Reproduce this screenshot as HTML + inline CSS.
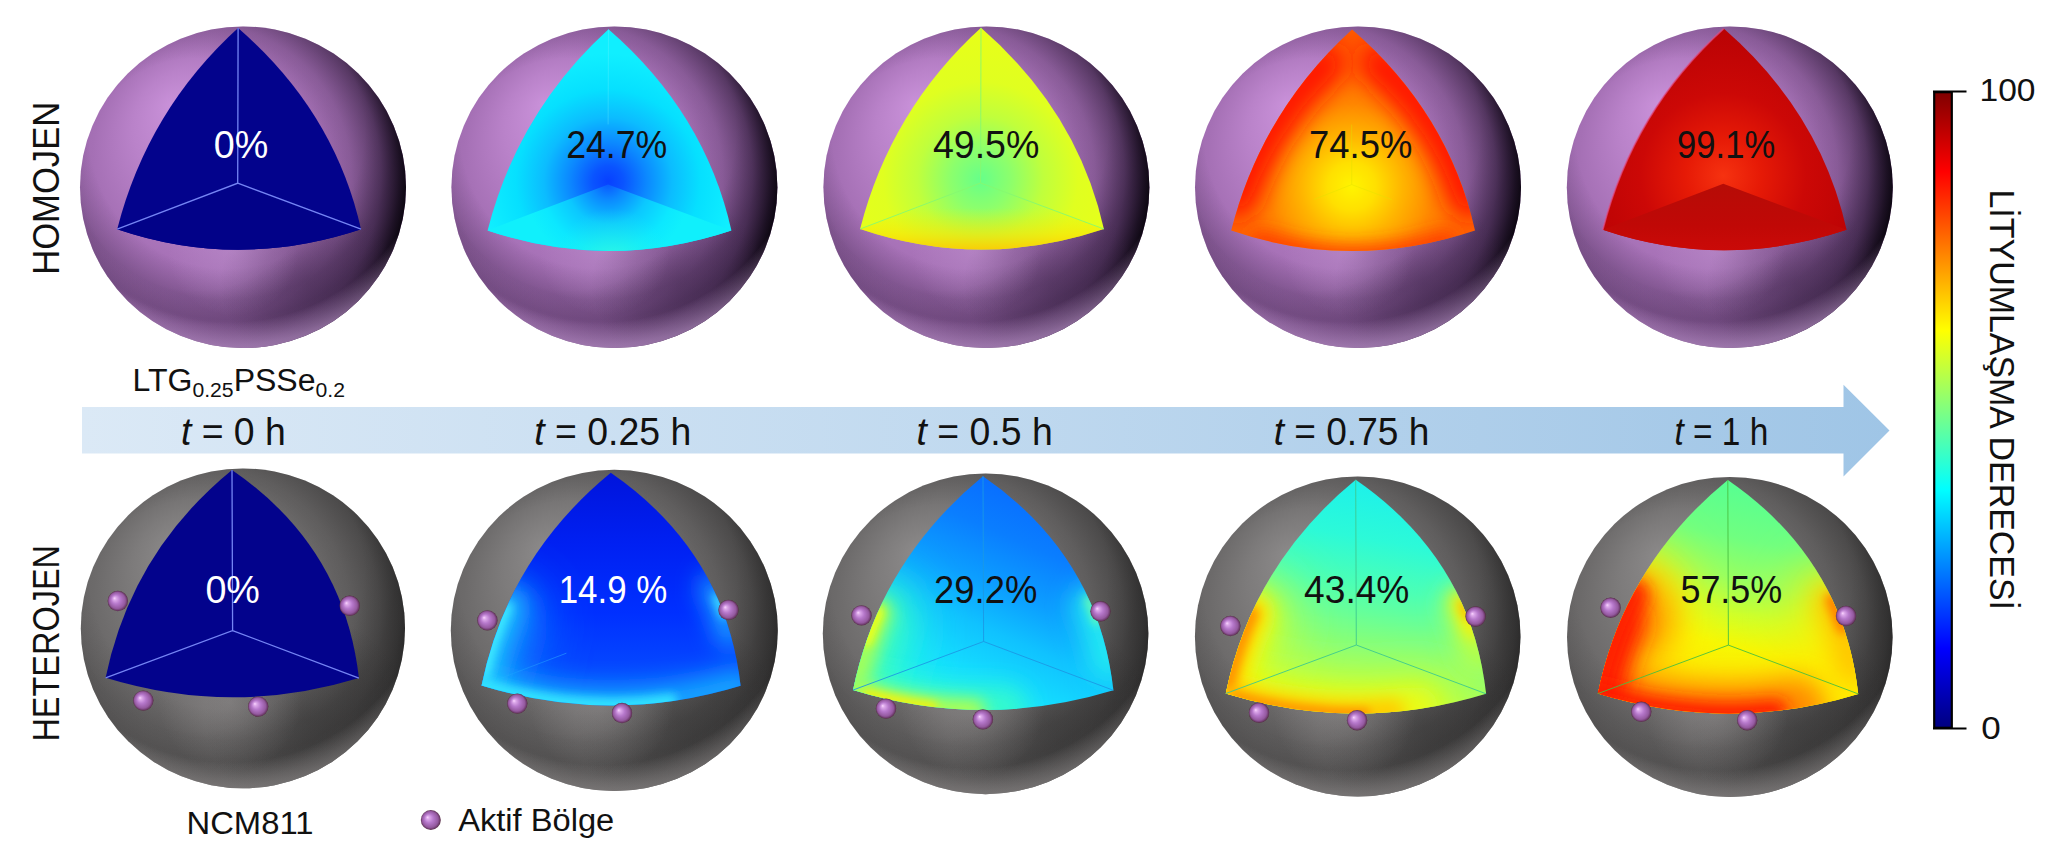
<!DOCTYPE html>
<html lang="tr">
<head>
<meta charset="utf-8">
<title>Lityumlaşma derecesi</title>
<style>
html,body{margin:0;padding:0;background:#fff;}
body{width:2048px;height:866px;overflow:hidden;}
svg{display:block;font-family:"Liberation Sans", sans-serif;}
</style>
</head>
<body>
<svg width="2048" height="866" viewBox="0 0 2048 866">
<defs>

<radialGradient id="pBase" cx="0.5" cy="0.5" r="0.62" fx="0.28" fy="0.24">
  <stop offset="0" stop-color="#c991d9"/>
  <stop offset="0.3" stop-color="#b982c9"/>
  <stop offset="0.6" stop-color="#a570b5"/>
  <stop offset="1" stop-color="#9464a3"/>
</radialGradient>
<radialGradient id="pDarkR" cx="0.36" cy="0.46" r="0.655">
  <stop offset="0.55" stop-color="#2a1636" stop-opacity="0"/>
  <stop offset="0.72" stop-color="#2a1636" stop-opacity="0.22"/>
  <stop offset="0.86" stop-color="#1c0e26" stop-opacity="0.55"/>
  <stop offset="0.95" stop-color="#0e0714" stop-opacity="0.88"/>
  <stop offset="1" stop-color="#050208" stop-opacity="1"/>
</radialGradient>
<radialGradient id="pCres" cx="0.70" cy="0.80" r="0.27">
  <stop offset="0" stop-color="#3c2548" stop-opacity="0.42"/>
  <stop offset="0.55" stop-color="#3c2548" stop-opacity="0.24"/>
  <stop offset="1" stop-color="#3c2548" stop-opacity="0"/>
</radialGradient>
<radialGradient id="pRing" cx="0.45" cy="0.33" r="0.66">
  <stop offset="0.64" stop-color="#3a2248" stop-opacity="0"/>
  <stop offset="0.79" stop-color="#3a2248" stop-opacity="0.3"/>
  <stop offset="0.88" stop-color="#3a2248" stop-opacity="0.3"/>
  <stop offset="0.98" stop-color="#3a2248" stop-opacity="0"/>
</radialGradient>
<radialGradient id="pHi" cx="0.47" cy="0.70" r="0.2">
  <stop offset="0" stop-color="#c9a0d8" stop-opacity="0.32"/>
  <stop offset="1" stop-color="#c9a0d8" stop-opacity="0"/>
</radialGradient>
<radialGradient id="pRim" cx="0.46" cy="0.30" r="0.72">
  <stop offset="0.86" stop-color="#c096d0" stop-opacity="0"/>
  <stop offset="0.96" stop-color="#c096d0" stop-opacity="0.6"/>
  <stop offset="1" stop-color="#c096d0" stop-opacity="0.75"/>
</radialGradient>

<radialGradient id="gBase" cx="0.5" cy="0.5" r="0.62" fx="0.28" fy="0.24">
  <stop offset="0" stop-color="#8b8989"/>
  <stop offset="0.3" stop-color="#7d7b7b"/>
  <stop offset="0.6" stop-color="#6c6a6a"/>
  <stop offset="1" stop-color="#5f5d5d"/>
</radialGradient>
<radialGradient id="gDarkR" cx="0.36" cy="0.46" r="0.655">
  <stop offset="0.55" stop-color="#000" stop-opacity="0"/>
  <stop offset="0.72" stop-color="#000" stop-opacity="0.11"/>
  <stop offset="0.86" stop-color="#000" stop-opacity="0.26"/>
  <stop offset="0.95" stop-color="#000" stop-opacity="0.42"/>
  <stop offset="1" stop-color="#000" stop-opacity="0.55"/>
</radialGradient>
<radialGradient id="gCres" cx="0.70" cy="0.78" r="0.32">
  <stop offset="0" stop-color="#1c1c1c" stop-opacity="0.28"/>
  <stop offset="0.5" stop-color="#1c1c1c" stop-opacity="0.17"/>
  <stop offset="1" stop-color="#1c1c1c" stop-opacity="0"/>
</radialGradient>
<radialGradient id="gRing" cx="0.45" cy="0.33" r="0.66">
  <stop offset="0.64" stop-color="#1a1a1a" stop-opacity="0"/>
  <stop offset="0.79" stop-color="#1a1a1a" stop-opacity="0.16"/>
  <stop offset="0.88" stop-color="#1a1a1a" stop-opacity="0.16"/>
  <stop offset="0.98" stop-color="#1a1a1a" stop-opacity="0"/>
</radialGradient>
<radialGradient id="gHi" cx="0.46" cy="0.73" r="0.22">
  <stop offset="0" stop-color="#a8a4a4" stop-opacity="0.36"/>
  <stop offset="1" stop-color="#a8a4a4" stop-opacity="0"/>
</radialGradient>
<radialGradient id="gRim" cx="0.46" cy="0.30" r="0.72">
  <stop offset="0.86" stop-color="#9a9696" stop-opacity="0"/>
  <stop offset="0.96" stop-color="#9a9696" stop-opacity="0.5"/>
  <stop offset="1" stop-color="#9a9696" stop-opacity="0.65"/>
</radialGradient>

<radialGradient id="dot" cx="0.5" cy="0.5" r="0.5" fx="0.33" fy="0.36">
  <stop offset="0" stop-color="#fbd6ff"/>
  <stop offset="0.16" stop-color="#dca8ea"/>
  <stop offset="0.45" stop-color="#b678cb"/>
  <stop offset="0.8" stop-color="#94599f"/>
  <stop offset="0.94" stop-color="#6b3a68"/>
  <stop offset="1" stop-color="#54283f"/>
</radialGradient>

<linearGradient id="band" x1="0" y1="0" x2="1" y2="0">
  <stop offset="0" stop-color="#dbe9f6"/>
  <stop offset="0.5" stop-color="#c0d9ef"/>
  <stop offset="1" stop-color="#9fc5e6"/>
</linearGradient>

<linearGradient id="jet" x1="0" y1="0" x2="0" y2="1">
  <stop offset="0" stop-color="#800000"/>
  <stop offset="0.125" stop-color="#ff0000"/>
  <stop offset="0.375" stop-color="#ffff00"/>
  <stop offset="0.5" stop-color="#80ff80"/>
  <stop offset="0.625" stop-color="#00ffff"/>
  <stop offset="0.875" stop-color="#0000ff"/>
  <stop offset="1" stop-color="#000080"/>
</linearGradient>
<filter id="b5" filterUnits="userSpaceOnUse" x="0" y="0" width="2048" height="866"><feGaussianBlur stdDeviation="5"/></filter><filter id="b8" filterUnits="userSpaceOnUse" x="0" y="0" width="2048" height="866"><feGaussianBlur stdDeviation="8"/></filter><filter id="b12" filterUnits="userSpaceOnUse" x="0" y="0" width="2048" height="866"><feGaussianBlur stdDeviation="12"/></filter><filter id="b16" filterUnits="userSpaceOnUse" x="0" y="0" width="2048" height="866"><feGaussianBlur stdDeviation="16"/></filter><filter id="b24" filterUnits="userSpaceOnUse" x="0" y="0" width="2048" height="866"><feGaussianBlur stdDeviation="24"/></filter><clipPath id="c1"><path d="M238.1 28 Q147.7 110.2 117.2 229.2 Q237.7 270.2 361 229.2 Q334.7 111.7 238.1 28 Z"/></clipPath><clipPath id="c2"><path d="M608.5 29.2 Q518.1 111.4 487.6 230.4 Q608.1 271.4 731.4 230.4 Q705.1 112.9 608.5 29.2 Z"/></clipPath><radialGradient id="r3" gradientUnits="userSpaceOnUse" cx="608.1" cy="181.4" r="128"><stop offset="0" stop-color="#0840ff"/><stop offset="0.12" stop-color="#0a54ff"/><stop offset="0.3" stop-color="#0c88ff"/><stop offset="0.5" stop-color="#0cbcff"/><stop offset="0.72" stop-color="#06e0ff"/><stop offset="1" stop-color="#10efff"/></radialGradient><radialGradient id="r4" gradientUnits="userSpaceOnUse" cx="608.1" cy="182.4" r="84"><stop offset="0" stop-color="#0a54ff"/><stop offset="0.2" stop-color="#0c88ff"/><stop offset="0.5" stop-color="#0cc8ff"/><stop offset="0.8" stop-color="#0ce8ff"/><stop offset="1" stop-color="#10f0fc"/></radialGradient><radialGradient id="r5" gradientUnits="userSpaceOnUse" cx="612.1" cy="268.4" r="60"><stop offset="0" stop-color="#48ffd0" stop-opacity="0.75"/><stop offset="0.5" stop-color="#30f8e0" stop-opacity="0.4"/><stop offset="1" stop-color="#20f0f0" stop-opacity="0"/></radialGradient><clipPath id="c6"><path d="M981 27.8 Q890.6 110 860.1 229 Q980.6 270 1103.9 229 Q1077.6 111.5 981 27.8 Z"/></clipPath><radialGradient id="r7" gradientUnits="userSpaceOnUse" cx="980.6" cy="179" r="150"><stop offset="0" stop-color="#66ff8a"/><stop offset="0.2" stop-color="#8cff6c"/><stop offset="0.42" stop-color="#c0ff3c"/><stop offset="0.65" stop-color="#e0ff20"/><stop offset="1" stop-color="#e8ff18"/></radialGradient><linearGradient id="l8" gradientUnits="userSpaceOnUse" x1="980.6" y1="208" x2="980.6" y2="251"><stop offset="0" stop-color="#f4f000" stop-opacity="0"/><stop offset="0.6" stop-color="#ffe000" stop-opacity="0.55"/><stop offset="1" stop-color="#ffc400" stop-opacity="0.9"/></linearGradient><clipPath id="c9"><path d="M1352.1 29.4 Q1261.7 111.6 1231.2 230.6 Q1351.7 271.6 1475 230.6 Q1448.7 113.1 1352.1 29.4 Z"/></clipPath><radialGradient id="r10" gradientUnits="userSpaceOnUse" cx="1351.7" cy="186.6" r="150"><stop offset="0" stop-color="#fff400"/><stop offset="0.16" stop-color="#ffe000"/><stop offset="0.34" stop-color="#ffb400"/><stop offset="0.55" stop-color="#ff8800"/><stop offset="0.78" stop-color="#ff6c00"/><stop offset="1" stop-color="#ff5c00"/></radialGradient><clipPath id="c11"><path d="M1723.7 28.6 Q1633.3 110.8 1602.8 229.8 Q1723.3 270.8 1846.6 229.8 Q1820.3 112.3 1723.7 28.6 Z"/></clipPath><radialGradient id="r12" gradientUnits="userSpaceOnUse" cx="1723.3" cy="175.8" r="150"><stop offset="0" stop-color="#f63210"/><stop offset="0.25" stop-color="#e61a06"/><stop offset="0.55" stop-color="#cc0806"/><stop offset="1" stop-color="#b80204"/></radialGradient><linearGradient id="l13" gradientUnits="userSpaceOnUse" x1="1723.3" y1="183.8" x2="1723.3" y2="253.8"><stop offset="0" stop-color="#b60c06"/><stop offset="0.6" stop-color="#c00806"/><stop offset="1" stop-color="#cc0a08"/></linearGradient><clipPath id="c14"><path d="M232 469.9 Q131.4 552.3 105.6 677.8 Q232.6 716.7 358.9 678.1 Q344 546.9 232 469.9 Z"/></clipPath><clipPath id="c15"><path d="M610.8 472.8 Q507.9 557.1 481.6 685.5 Q611.4 725.3 740.6 685.8 Q725.3 551.6 610.8 472.8 Z"/></clipPath><linearGradient id="l16" gradientUnits="userSpaceOnUse" x1="611.4" y1="472.8" x2="611.4" y2="707.5"><stop offset="0" stop-color="#0014dc"/><stop offset="0.3" stop-color="#0020f2"/><stop offset="0.6" stop-color="#0030ff"/><stop offset="0.8" stop-color="#0444ff"/><stop offset="1" stop-color="#0860ff"/></linearGradient><clipPath id="c17"><path d="M983 476.3 Q879.6 561 853.1 690 Q983.6 730 1113.4 690.3 Q1098.1 555.5 983 476.3 Z"/></clipPath><linearGradient id="l18" gradientUnits="userSpaceOnUse" x1="1038.6" y1="481.3" x2="938.6" y2="712"><stop offset="0" stop-color="#0868ff"/><stop offset="0.25" stop-color="#0a7eff"/><stop offset="0.45" stop-color="#0c9eff"/><stop offset="0.62" stop-color="#10c2ff"/><stop offset="0.8" stop-color="#14dcff"/><stop offset="1" stop-color="#1cf0f8"/></linearGradient><clipPath id="c19"><path d="M1355.7 479.8 Q1252.3 564.5 1225.8 693.5 Q1356.3 733.5 1486.1 693.8 Q1470.8 559 1355.7 479.8 Z"/></clipPath><linearGradient id="l20" gradientUnits="userSpaceOnUse" x1="1376.3" y1="479.8" x2="1336.3" y2="713.5"><stop offset="0" stop-color="#1cf0ec"/><stop offset="0.25" stop-color="#2cfad8"/><stop offset="0.45" stop-color="#4cffb4"/><stop offset="0.62" stop-color="#74ff8c"/><stop offset="0.8" stop-color="#98ff68"/><stop offset="1" stop-color="#c4ff3c"/></linearGradient><clipPath id="c21"><path d="M1727.8 479.9 Q1624.4 564.6 1597.9 693.6 Q1728.4 733.6 1858.2 693.9 Q1842.9 559.1 1727.8 479.9 Z"/></clipPath><linearGradient id="l22" gradientUnits="userSpaceOnUse" x1="1753.4" y1="479.9" x2="1703.4" y2="713.6"><stop offset="0" stop-color="#54ff94"/><stop offset="0.25" stop-color="#70ff80"/><stop offset="0.42" stop-color="#98ff60"/><stop offset="0.56" stop-color="#ccff2c"/><stop offset="0.7" stop-color="#f4fc04"/><stop offset="1" stop-color="#fff000"/></linearGradient>
</defs>
<rect width="2048" height="866" fill="#fff"/>
<path d="M82 407 H1843.5 V384.8 L1889.5 430.5 L1843.5 476.5 V453.5 H82 Z" fill="url(#band)"/>
<ellipse cx="243" cy="187.2" rx="163" ry="160.8" fill="url(#pBase)"/>
<ellipse cx="243" cy="187.2" rx="163" ry="160.8" fill="url(#pRing)"/>
<ellipse cx="243" cy="187.2" rx="163" ry="160.8" fill="url(#pDarkR)"/>
<ellipse cx="243" cy="187.2" rx="163" ry="160.8" fill="url(#pCres)"/>
<ellipse cx="243" cy="187.2" rx="163" ry="160.8" fill="url(#pHi)"/>
<ellipse cx="243" cy="187.2" rx="163" ry="160.8" fill="url(#pRim)"/>
<path d="M238.1 28 Q147.7 110.2 117.2 229.2 Q237.7 270.2 361 229.2 Q334.7 111.7 238.1 28 Z" fill="#03038c"/>
<path d="M237.7 183.2 L117.2 229.2 Q237.7 270.2 361 229.2 Z" fill="#020288"/>
<path d="M238.1 28 L237.7 183.2 L117.2 229.2 M237.7 183.2 L361 229.2" fill="none" stroke="#7585f4" stroke-width="1.3"/>
<ellipse cx="614.4" cy="187.2" rx="163" ry="160.8" fill="url(#pBase)"/>
<ellipse cx="614.4" cy="187.2" rx="163" ry="160.8" fill="url(#pRing)"/>
<ellipse cx="614.4" cy="187.2" rx="163" ry="160.8" fill="url(#pDarkR)"/>
<ellipse cx="614.4" cy="187.2" rx="163" ry="160.8" fill="url(#pCres)"/>
<ellipse cx="614.4" cy="187.2" rx="163" ry="160.8" fill="url(#pHi)"/>
<ellipse cx="614.4" cy="187.2" rx="163" ry="160.8" fill="url(#pRim)"/>
<path d="M608.5 29.2 Q518.1 111.4 487.6 230.4 Q608.1 271.4 731.4 230.4 Q705.1 112.9 608.5 29.2 Z" fill="url(#r3)"/>
<path d="M608.1 184.4 L487.6 230.4 Q608.1 271.4 731.4 230.4 Z" fill="url(#r4)"/>
<g clip-path="url(#c2)"><circle cx="612.1" cy="268.4" r="60" fill="url(#r5)"/></g>
<path d="M608.5 29.2 L608.1 124.4" stroke="#7cf4ff" stroke-opacity="0.28" stroke-width="1" fill="none"/>
<ellipse cx="986.4" cy="187.2" rx="163" ry="160.8" fill="url(#pBase)"/>
<ellipse cx="986.4" cy="187.2" rx="163" ry="160.8" fill="url(#pRing)"/>
<ellipse cx="986.4" cy="187.2" rx="163" ry="160.8" fill="url(#pDarkR)"/>
<ellipse cx="986.4" cy="187.2" rx="163" ry="160.8" fill="url(#pCres)"/>
<ellipse cx="986.4" cy="187.2" rx="163" ry="160.8" fill="url(#pHi)"/>
<ellipse cx="986.4" cy="187.2" rx="163" ry="160.8" fill="url(#pRim)"/>
<path d="M981 27.8 Q890.6 110 860.1 229 Q980.6 270 1103.9 229 Q1077.6 111.5 981 27.8 Z" fill="url(#r7)"/>
<path d="M980.6 183 L860.1 229 Q980.6 270 1103.9 229 Z" fill="url(#l8)"/>
<path d="M981 27.8 L980.6 183 L860.1 229 M980.6 183 L1103.9 229" fill="none" stroke="#86f870" stroke-width="0.9"/>
<ellipse cx="1358" cy="187.2" rx="163" ry="160.8" fill="url(#pBase)"/>
<ellipse cx="1358" cy="187.2" rx="163" ry="160.8" fill="url(#pRing)"/>
<ellipse cx="1358" cy="187.2" rx="163" ry="160.8" fill="url(#pDarkR)"/>
<ellipse cx="1358" cy="187.2" rx="163" ry="160.8" fill="url(#pCres)"/>
<ellipse cx="1358" cy="187.2" rx="163" ry="160.8" fill="url(#pHi)"/>
<ellipse cx="1358" cy="187.2" rx="163" ry="160.8" fill="url(#pRim)"/>
<path d="M1352.1 29.4 Q1261.7 111.6 1231.2 230.6 Q1351.7 271.6 1475 230.6 Q1448.7 113.1 1352.1 29.4 Z" fill="url(#r10)"/>
<g clip-path="url(#c9)"><path d="M1324.1 63.4 Q1267.7 115.6 1237.2 196.6" fill="none" stroke="#ff1800" stroke-width="42" stroke-opacity="1" stroke-linecap="round" filter="url(#b12)"/><path d="M1380.1 63.4 Q1442.7 117.1 1469 196.6" fill="none" stroke="#ff1800" stroke-width="42" stroke-opacity="1" stroke-linecap="round" filter="url(#b12)"/><path d="M1261.2 242.6 Q1351.7 273.6 1445 242.6" fill="none" stroke="#ff3400" stroke-width="26" stroke-opacity="0.8" stroke-linecap="round" filter="url(#b8)"/></g>
<path d="M1351.7 124.6 L1351.7 184.6 L1313.7 199.6 M1351.7 184.6 L1391.7 199.6" fill="none" stroke="#e0e000" stroke-width="0.8" stroke-opacity="0.55"/>
<ellipse cx="1729.8" cy="187.2" rx="163" ry="160.8" fill="url(#pBase)"/>
<ellipse cx="1729.8" cy="187.2" rx="163" ry="160.8" fill="url(#pRing)"/>
<ellipse cx="1729.8" cy="187.2" rx="163" ry="160.8" fill="url(#pDarkR)"/>
<ellipse cx="1729.8" cy="187.2" rx="163" ry="160.8" fill="url(#pCres)"/>
<ellipse cx="1729.8" cy="187.2" rx="163" ry="160.8" fill="url(#pHi)"/>
<ellipse cx="1729.8" cy="187.2" rx="163" ry="160.8" fill="url(#pRim)"/>
<path d="M1723.7 28.6 Q1633.3 110.8 1602.8 229.8 Q1723.3 270.8 1846.6 229.8 Q1820.3 112.3 1723.7 28.6 Z" fill="url(#r12)"/>
<path d="M1723.3 183.8 L1602.8 229.8 Q1723.3 270.8 1846.6 229.8 Z" fill="url(#l13)"/>
<path d="M1723.7 28.6 Q1633.3 110.8 1602.8 229.8" fill="none" stroke="#e0508c" stroke-width="1.6" stroke-opacity="0.7"/>
<ellipse cx="242.9" cy="628.3" rx="162.1" ry="159.9" fill="url(#gBase)"/>
<ellipse cx="242.9" cy="628.3" rx="162.1" ry="159.9" fill="url(#gRing)"/>
<ellipse cx="242.9" cy="628.3" rx="162.1" ry="159.9" fill="url(#gDarkR)"/>
<ellipse cx="242.9" cy="628.3" rx="162.1" ry="159.9" fill="url(#gCres)"/>
<ellipse cx="242.9" cy="628.3" rx="162.1" ry="159.9" fill="url(#gHi)"/>
<ellipse cx="242.9" cy="628.3" rx="162.1" ry="159.9" fill="url(#gRim)"/>
<path d="M232 469.9 Q131.4 552.3 105.6 677.8 Q232.6 716.7 358.9 678.1 Q344 546.9 232 469.9 Z" fill="#03038c"/>
<path d="M232 469.9 L232.6 630.6 L105.6 677.8 M232.6 630.6 L358.9 678.1" fill="none" stroke="#7585f4" stroke-width="1.3"/>
<circle cx="117.8" cy="601" r="10.2" fill="url(#dot)"/>
<circle cx="349.7" cy="605.8" r="10.2" fill="url(#dot)"/>
<circle cx="143.3" cy="700.6" r="10.2" fill="url(#dot)"/>
<circle cx="258.2" cy="706.6" r="10.2" fill="url(#dot)"/>
<ellipse cx="614.3" cy="630.4" rx="163.5" ry="160.6" fill="url(#gBase)"/>
<ellipse cx="614.3" cy="630.4" rx="163.5" ry="160.6" fill="url(#gRing)"/>
<ellipse cx="614.3" cy="630.4" rx="163.5" ry="160.6" fill="url(#gDarkR)"/>
<ellipse cx="614.3" cy="630.4" rx="163.5" ry="160.6" fill="url(#gCres)"/>
<ellipse cx="614.3" cy="630.4" rx="163.5" ry="160.6" fill="url(#gHi)"/>
<ellipse cx="614.3" cy="630.4" rx="163.5" ry="160.6" fill="url(#gRim)"/>
<path d="M610.8 472.8 Q507.9 557.1 481.6 685.5 Q611.4 725.3 740.6 685.8 Q725.3 551.6 610.8 472.8 Z" fill="url(#l16)"/>
<path d="M481.6 685.5 L566.4 653.2" stroke="#30a8ff" stroke-width="1" stroke-opacity="0.6" fill="none"/>
<g clip-path="url(#c15)"><path d="M499.3 624.7 Q488.1 653.7 481.6 685.5" fill="none" stroke="#1078ff" stroke-width="100" stroke-opacity="0.7" stroke-linecap="round" filter="url(#b24)"/><path d="M503.7 613.7 Q489.3 647.7 481.6 685.5" fill="none" stroke="#1498ff" stroke-width="56" stroke-opacity="0.7" stroke-linecap="round" filter="url(#b16)"/><path d="M481.6 685.5 Q611.4 725.3 740.6 685.8" fill="none" stroke="#18b0ff" stroke-width="34" stroke-opacity="0.9" stroke-linecap="round" filter="url(#b12)"/><path d="M508.4 603.2 Q490.5 641.8 481.6 685.5" fill="none" stroke="#20ccff" stroke-width="26" stroke-opacity="0.95" stroke-linecap="round" filter="url(#b12)"/><path d="M712.5 587.2 Q723.5 609.7 730.5 634.4" fill="none" stroke="#1cb8ff" stroke-width="26" stroke-opacity="0.85" stroke-linecap="round" filter="url(#b12)"/><path d="M481.6 685.5 Q576 714.4 670 701.4" fill="none" stroke="#30e4ff" stroke-width="15" stroke-opacity="1" stroke-linecap="round" filter="url(#b5)"/><path d="M506.6 607.1 Q492.5 638.6 484.2 673.5" fill="none" stroke="#44f0ff" stroke-width="11" stroke-opacity="0.95" stroke-linecap="round" filter="url(#b5)"/><path d="M717.1 597.2 Q720.8 605.5 723.9 614.1" fill="none" stroke="#48f0ff" stroke-width="9" stroke-opacity="0.9" stroke-linecap="round" filter="url(#b5)"/></g>
<circle cx="487.4" cy="620.4" r="10.2" fill="url(#dot)"/>
<circle cx="728.5" cy="610" r="10.2" fill="url(#dot)"/>
<circle cx="517.3" cy="703.6" r="10.2" fill="url(#dot)"/>
<circle cx="622" cy="713" r="10.2" fill="url(#dot)"/>
<ellipse cx="985.6" cy="633.8" rx="162.8" ry="160.4" fill="url(#gBase)"/>
<ellipse cx="985.6" cy="633.8" rx="162.8" ry="160.4" fill="url(#gRing)"/>
<ellipse cx="985.6" cy="633.8" rx="162.8" ry="160.4" fill="url(#gDarkR)"/>
<ellipse cx="985.6" cy="633.8" rx="162.8" ry="160.4" fill="url(#gCres)"/>
<ellipse cx="985.6" cy="633.8" rx="162.8" ry="160.4" fill="url(#gHi)"/>
<ellipse cx="985.6" cy="633.8" rx="162.8" ry="160.4" fill="url(#gRim)"/>
<path d="M983 476.3 Q879.6 561 853.1 690 Q983.6 730 1113.4 690.3 Q1098.1 555.5 983 476.3 Z" fill="url(#l18)"/>
<g clip-path="url(#c17)"><path d="M871.5 627.5 Q859.8 657.3 853.1 690" fill="none" stroke="#28f8d8" stroke-width="96" stroke-opacity="0.8" stroke-linecap="round" filter="url(#b24)"/><path d="M875.4 617.9 Q860.9 652 853.1 690" fill="none" stroke="#48ffb0" stroke-width="56" stroke-opacity="0.8" stroke-linecap="round" filter="url(#b16)"/><path d="M853.1 690 Q928.8 713.2 1004.2 709.6" fill="none" stroke="#38ffc4" stroke-width="46" stroke-opacity="0.85" stroke-linecap="round" filter="url(#b12)"/><path d="M1091.6 605.3 Q1102.8 631.7 1108.8 661" fill="none" stroke="#24f4f0" stroke-width="40" stroke-opacity="0.85" stroke-linecap="round" filter="url(#b12)"/><path d="M877.7 612.6 Q865.2 640.7 857.4 671.5" fill="none" stroke="#a8ff54" stroke-width="28" stroke-opacity="0.95" stroke-linecap="round" filter="url(#b8)"/><path d="M853.1 690 Q914.4 708.8 975.5 710" fill="none" stroke="#b8ff44" stroke-width="20" stroke-opacity="1" stroke-linecap="round" filter="url(#b8)"/><path d="M878.3 611.2 Q871.8 625.7 866.5 640.9" fill="none" stroke="#f4ff10" stroke-width="11" stroke-opacity="1" stroke-linecap="round" filter="url(#b5)"/><path d="M1089 599.4 Q1093.6 609.6 1097.4 620.3" fill="none" stroke="#70ffac" stroke-width="10" stroke-opacity="0.9" stroke-linecap="round" filter="url(#b5)"/><path d="M867.1 694.1 Q900.1 703.1 933 707" fill="none" stroke="#fff000" stroke-width="9" stroke-opacity="1" stroke-linecap="round" filter="url(#b5)"/></g>
<path d="M983 476.3 L983.6 641.5 L853.1 690 M983.6 641.5 L1113.4 690.3" fill="none" stroke="#1c98e4" stroke-width="0.9"/>
<circle cx="861.5" cy="615.4" r="10.2" fill="url(#dot)"/>
<circle cx="1100.5" cy="611.3" r="10.2" fill="url(#dot)"/>
<circle cx="886" cy="708.6" r="10.2" fill="url(#dot)"/>
<circle cx="982.9" cy="719.4" r="10.2" fill="url(#dot)"/>
<ellipse cx="1357.7" cy="636.5" rx="162.8" ry="160" fill="url(#gBase)"/>
<ellipse cx="1357.7" cy="636.5" rx="162.8" ry="160" fill="url(#gRing)"/>
<ellipse cx="1357.7" cy="636.5" rx="162.8" ry="160" fill="url(#gDarkR)"/>
<ellipse cx="1357.7" cy="636.5" rx="162.8" ry="160" fill="url(#gCres)"/>
<ellipse cx="1357.7" cy="636.5" rx="162.8" ry="160" fill="url(#gHi)"/>
<ellipse cx="1357.7" cy="636.5" rx="162.8" ry="160" fill="url(#gRim)"/>
<path d="M1355.7 479.8 Q1252.3 564.5 1225.8 693.5 Q1356.3 733.5 1486.1 693.8 Q1470.8 559 1355.7 479.8 Z" fill="url(#l20)"/>
<g clip-path="url(#c19)"><path d="M1249 619.3 Q1233.8 654.4 1225.8 693.5" fill="none" stroke="#c8ff38" stroke-width="96" stroke-opacity="0.75" stroke-linecap="round" filter="url(#b24)"/><path d="M1225.8 693.5 Q1327.3 724.6 1428.4 707.5" fill="none" stroke="#d0ff30" stroke-width="80" stroke-opacity="0.7" stroke-linecap="round" filter="url(#b24)"/><path d="M1251 614.6 Q1234.4 651.7 1225.8 693.5" fill="none" stroke="#f0fc10" stroke-width="50" stroke-opacity="0.9" stroke-linecap="round" filter="url(#b12)"/><path d="M1225.8 693.5 Q1321 722.7 1415.9 709.4" fill="none" stroke="#f0fc0c" stroke-width="46" stroke-opacity="0.9" stroke-linecap="round" filter="url(#b12)"/><path d="M1462.3 604.2 Q1472.4 626.9 1478.6 651.8" fill="none" stroke="#c8ff38" stroke-width="40" stroke-opacity="0.8" stroke-linecap="round" filter="url(#b12)"/><path d="M1252.1 612.2 Q1234.7 650.4 1225.8 693.5" fill="none" stroke="#ffdc00" stroke-width="30" stroke-opacity="1" stroke-linecap="round" filter="url(#b8)"/><path d="M1225.8 693.5 Q1309.4 719.1 1392.6 712" fill="none" stroke="#ffcc00" stroke-width="26" stroke-opacity="1" stroke-linecap="round" filter="url(#b8)"/><path d="M1460.7 600.7 Q1467.4 615.3 1472.5 630.9" fill="none" stroke="#fff000" stroke-width="17" stroke-opacity="1" stroke-linecap="round" filter="url(#b8)"/><path d="M1251.4 613.8 Q1236.7 646.4 1228.2 682.5" fill="none" stroke="#ff9400" stroke-width="15" stroke-opacity="1" stroke-linecap="round" filter="url(#b5)"/><path d="M1235 696.2 Q1300.2 714.8 1365.2 713.5" fill="none" stroke="#ff9000" stroke-width="10" stroke-opacity="1" stroke-linecap="round" filter="url(#b5)"/><path d="M1462.2 604.1 Q1464.7 609.7 1467 615.4" fill="none" stroke="#ffb000" stroke-width="7" stroke-opacity="0.9" stroke-linecap="round" filter="url(#b5)"/></g>
<path d="M1355.7 479.8 L1356.3 645 L1225.8 693.5 M1356.3 645 L1486.1 693.8" fill="none" stroke="#3cc890" stroke-width="0.9"/>
<circle cx="1230.4" cy="626" r="10.2" fill="url(#dot)"/>
<circle cx="1475.6" cy="616.5" r="10.2" fill="url(#dot)"/>
<circle cx="1259" cy="712.7" r="10.2" fill="url(#dot)"/>
<circle cx="1357.1" cy="720.2" r="10.2" fill="url(#dot)"/>
<ellipse cx="1729.8" cy="637" rx="162.8" ry="160" fill="url(#gBase)"/>
<ellipse cx="1729.8" cy="637" rx="162.8" ry="160" fill="url(#gRing)"/>
<ellipse cx="1729.8" cy="637" rx="162.8" ry="160" fill="url(#gDarkR)"/>
<ellipse cx="1729.8" cy="637" rx="162.8" ry="160" fill="url(#gCres)"/>
<ellipse cx="1729.8" cy="637" rx="162.8" ry="160" fill="url(#gHi)"/>
<ellipse cx="1729.8" cy="637" rx="162.8" ry="160" fill="url(#gRim)"/>
<path d="M1727.8 479.9 Q1624.4 564.6 1597.9 693.6 Q1728.4 733.6 1858.2 693.9 Q1842.9 559.1 1727.8 479.9 Z" fill="url(#l22)"/>
<g clip-path="url(#c21)"><path d="M1623.4 614.1 Q1606.5 651.5 1597.9 693.6" fill="none" stroke="#fff000" stroke-width="140" stroke-opacity="0.95" stroke-linecap="round" filter="url(#b24)"/><path d="M1620.8 619.9 Q1605.9 654.7 1597.9 693.6" fill="none" stroke="#ff9400" stroke-width="104" stroke-opacity="1" stroke-linecap="round" filter="url(#b16)"/><path d="M1597.9 693.6 Q1728.4 733.6 1858.2 693.9" fill="none" stroke="#ffe400" stroke-width="100" stroke-opacity="0.9" stroke-linecap="round" filter="url(#b24)"/><path d="M1834.5 604.5 Q1852.7 645.7 1858.2 693.9" fill="none" stroke="#fff000" stroke-width="80" stroke-opacity="0.9" stroke-linecap="round" filter="url(#b24)"/><path d="M1597.9 693.6 Q1696.5 723.8 1794.6 708.6" fill="none" stroke="#ff8c00" stroke-width="62" stroke-opacity="1" stroke-linecap="round" filter="url(#b12)"/><path d="M1619.1 624 Q1605.4 657 1597.9 693.6" fill="none" stroke="#ff2000" stroke-width="50" stroke-opacity="1" stroke-linecap="round" filter="url(#b12)"/><path d="M1833.4 602.2 Q1847.3 632.6 1854 667" fill="none" stroke="#ffc400" stroke-width="34" stroke-opacity="1" stroke-linecap="round" filter="url(#b12)"/><path d="M1633 594.3 Q1608.9 640.2 1597.9 693.6" fill="none" stroke="#ff2400" stroke-width="30" stroke-opacity="1" stroke-linecap="round" filter="url(#b8)"/><path d="M1597.9 693.6 Q1687.3 721 1776.3 711" fill="none" stroke="#ff1c00" stroke-width="23" stroke-opacity="1" stroke-linecap="round" filter="url(#b8)"/><path d="M1832.3 599.8 Q1838.5 613.1 1843.4 627.2" fill="none" stroke="#ff8400" stroke-width="14" stroke-opacity="1" stroke-linecap="round" filter="url(#b5)"/></g>
<path d="M1727.8 479.9 L1728.4 645.1 L1597.9 693.6 M1728.4 645.1 L1858.2 693.9" fill="none" stroke="#48c040" stroke-width="0.9"/>
<circle cx="1610.6" cy="607.8" r="10.2" fill="url(#dot)"/>
<circle cx="1846" cy="616" r="10.2" fill="url(#dot)"/>
<circle cx="1641.3" cy="711.8" r="10.2" fill="url(#dot)"/>
<circle cx="1747.2" cy="720.2" r="10.2" fill="url(#dot)"/>
<circle cx="430.8" cy="820" r="10" fill="url(#dot)"/>
<rect x="1934.2" y="92.2" width="17.6" height="635.6" fill="url(#jet)" stroke="#000" stroke-width="2.2"/>
<path d="M1933 91.6 H1966.5 M1933 728.4 H1966.5" stroke="#000" stroke-width="2" fill="none"/>
<text x="213.7" y="158.3" font-size="38" fill="#fff" text-anchor="start" textLength="54.5" lengthAdjust="spacingAndGlyphs">0%</text>
<text x="566.2" y="158.3" font-size="38" fill="#111" text-anchor="start" textLength="101.1" lengthAdjust="spacingAndGlyphs">24.7%</text>
<text x="932.9" y="158.3" font-size="38" fill="#111" text-anchor="start" textLength="106.5" lengthAdjust="spacingAndGlyphs">49.5%</text>
<text x="1309.1" y="158.3" font-size="38" fill="#111" text-anchor="start" textLength="103.2" lengthAdjust="spacingAndGlyphs">74.5%</text>
<text x="1677.1" y="158.3" font-size="38" fill="#111" text-anchor="start" textLength="98.1" lengthAdjust="spacingAndGlyphs">99.1%</text>
<text x="205.4" y="603" font-size="38" fill="#fff" text-anchor="start" textLength="54.5" lengthAdjust="spacingAndGlyphs">0%</text>
<text x="558.7" y="603" font-size="38" fill="#fff" text-anchor="start" textLength="108.6" lengthAdjust="spacingAndGlyphs">14.9 %</text>
<text x="934.1" y="603" font-size="38" fill="#111" text-anchor="start" textLength="103.2" lengthAdjust="spacingAndGlyphs">29.2%</text>
<text x="1304.1" y="603" font-size="38" fill="#111" text-anchor="start" textLength="105.3" lengthAdjust="spacingAndGlyphs">43.4%</text>
<text x="1680.4" y="603" font-size="38" fill="#111" text-anchor="start" textLength="101.9" lengthAdjust="spacingAndGlyphs">57.5%</text>
<text x="180.9" y="445.2" font-size="38" fill="#111" textLength="104.9" lengthAdjust="spacingAndGlyphs"><tspan font-style="italic">t</tspan> = 0 h</text>
<text x="534.2" y="445.2" font-size="38" fill="#111" textLength="157" lengthAdjust="spacingAndGlyphs"><tspan font-style="italic">t</tspan> = 0.25 h</text>
<text x="916.6" y="445.2" font-size="38" fill="#111" textLength="136.1" lengthAdjust="spacingAndGlyphs"><tspan font-style="italic">t</tspan> = 0.5 h</text>
<text x="1273.7" y="445.2" font-size="38" fill="#111" textLength="155.6" lengthAdjust="spacingAndGlyphs"><tspan font-style="italic">t</tspan> = 0.75 h</text>
<text x="1674.5" y="445.2" font-size="38" fill="#111" textLength="93.8" lengthAdjust="spacingAndGlyphs"><tspan font-style="italic">t</tspan> = 1 h</text>
<text x="132.5" y="391" font-size="31" fill="#111" textLength="212.5" lengthAdjust="spacingAndGlyphs">LTG<tspan font-size="20.5" dy="5.8">0.25</tspan><tspan dy="-5.8">PSSe</tspan><tspan font-size="20.5" dy="5.8">0.2</tspan></text>
<text x="186.5" y="833.9" font-size="31" fill="#111" text-anchor="start" textLength="127" lengthAdjust="spacingAndGlyphs">NCM811</text>
<text x="458.2" y="830.8" font-size="31" fill="#111" text-anchor="start" textLength="156" lengthAdjust="spacingAndGlyphs">Aktif Bölge</text>
<text transform="translate(59.4 274.8) rotate(-90)" font-size="36" fill="#111" textLength="173" lengthAdjust="spacingAndGlyphs">HOMOJEN</text>
<text transform="translate(59.4 741.6) rotate(-90)" font-size="36" fill="#111" textLength="196.6" lengthAdjust="spacingAndGlyphs">HETEROJEN</text>
<text x="1979.5" y="100.9" font-size="30.5" fill="#111" text-anchor="start" textLength="56" lengthAdjust="spacingAndGlyphs">100</text>
<text x="1981.3" y="739.2" font-size="30.5" fill="#111" text-anchor="start" textLength="19.5" lengthAdjust="spacingAndGlyphs">0</text>
<text transform="translate(1989.5 189.5) rotate(90)" font-size="35" fill="#111" textLength="420.5" lengthAdjust="spacingAndGlyphs">LİTYUMLAŞMA DERECESİ</text>
</svg>
</body>
</html>
